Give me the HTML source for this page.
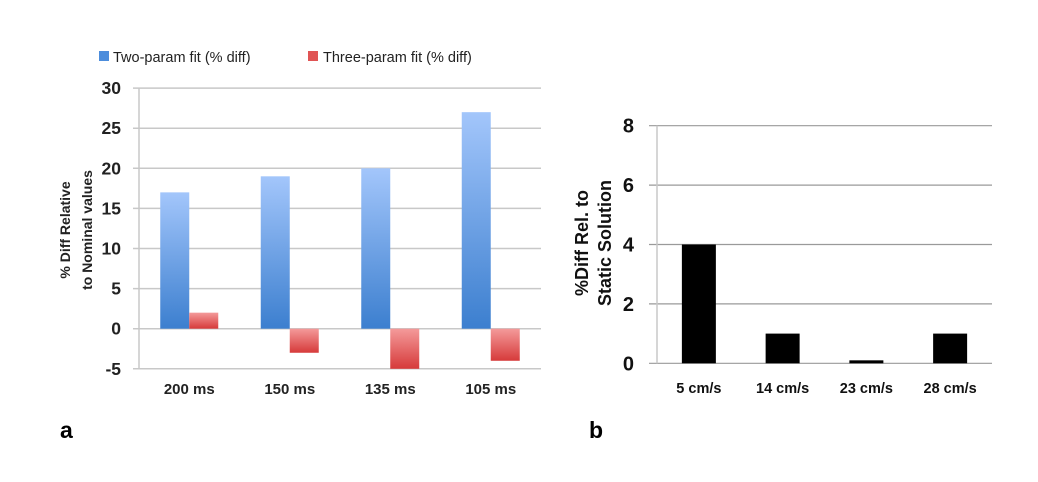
<!DOCTYPE html>
<html><head><meta charset="utf-8"><style>
body{margin:0;background:#fff;}
svg{display:block;font-family:"Liberation Sans",sans-serif;}
</style></head><body>
<svg id="fig" width="1038" height="482" viewBox="0 0 1038 482">
<defs>
<linearGradient id="gb" x1="0" y1="0" x2="0" y2="1"><stop offset="0" stop-color="#a3c6fb"/><stop offset="1" stop-color="#3c7fcf"/></linearGradient>
<linearGradient id="gr" x1="0" y1="0" x2="0" y2="1"><stop offset="0" stop-color="#f49a9a"/><stop offset="1" stop-color="#d63a3a"/></linearGradient>
</defs>
<g id="ca"></g>
<g id="cb"></g>
<text x="60" y="438" font-size="23" font-weight="bold">a</text>
<text x="589" y="438" font-size="23" font-weight="bold">b</text>
</svg>
<script>
const catsA=["200 ms","150 ms","135 ms","105 ms"];
const twoParam=[17,19,20,27];
const threeParam=[2,-3,-5,-4];
const ticksA=[-5,0,5,10,15,20,25,30];
const catsB=["5 cm/s","14 cm/s","23 cm/s","28 cm/s"];
const valsB=[4,1,0.1,1];
const ticksB=[0,2,4,6,8];
const NS="http://www.w3.org/2000/svg";
function mk(p,t,a,txt){const e=document.createElementNS(NS,t);for(const k in a)e.setAttribute(k,a[k]);if(txt!=null)e.textContent=txt;p.appendChild(e);return e;}
// chart a
const ga=document.getElementById('ca');
const yA=v=>328.7-(v)*(40.1/5);
const xA0=139,xA1=541,cwA=(xA1-xA0)/catsA.length;
ticksA.forEach(t=>{
 const gl=mk(ga,'line',{x1:133,x2:xA1,y1:yA(t),y2:yA(t),stroke:'#c8c8c8','stroke-width':1.5});
 
 const tl=mk(ga,'text',{x:121,y:yA(t)+6,'text-anchor':'end','font-size':17.5,'font-weight':'bold',fill:'#222'},String(t));
 
});
mk(ga,'line',{x1:xA0,x2:xA0,y1:yA(30),y2:yA(-5),stroke:'#c8c8c8','stroke-width':1.5});
catsA.forEach((c,i)=>{
 const cx=xA0+cwA*(i+0.5);
 const b=mk(ga,'rect',{x:cx-29,y:Math.min(yA(twoParam[i]),yA(0)),width:29,height:Math.abs(yA(twoParam[i])-yA(0)),fill:'url(#gb)'});
 
 const r=mk(ga,'rect',{x:cx,y:Math.min(yA(threeParam[i]),yA(0)),width:29,height:Math.abs(yA(threeParam[i])-yA(0)),fill:'url(#gr)'});
 
 const l=mk(ga,'text',{x:cx,y:394,'text-anchor':'middle','font-size':15,'font-weight':'bold',fill:'#222'},c);
 
});
const yt=mk(ga,'text',{transform:'translate(70,230) rotate(-90)','text-anchor':'middle','font-size':14,'font-weight':'bold',fill:'#222'});

mk(yt,'tspan',{x:0,y:0},'% Diff Relative');mk(yt,'tspan',{x:0,y:22},'to Nominal values');
const le1=mk(ga,'g',{});
mk(le1,'rect',{x:99,y:51,width:10,height:10,fill:'#4d8ddc'});
mk(le1,'text',{x:113,y:62,'font-size':14.5,fill:'#222'},'Two-param fit (% diff)');
const le2=mk(ga,'g',{});
mk(le2,'rect',{x:308,y:51,width:10,height:10,fill:'#e05454'});
mk(le2,'text',{x:323,y:62,'font-size':14.5,fill:'#222'},'Three-param fit (% diff)');
// chart b
const gb=document.getElementById('cb');
const yB=v=>363.3-v*(59.4/2);
const xB0=657,xB1=992,cwB=(xB1-xB0)/catsB.length;
ticksB.forEach(t=>{
 const gl=mk(gb,'line',{x1:649,x2:xB1,y1:yB(t),y2:yB(t),stroke:'#9a9a9a','stroke-width':1.2});
 
 const tl=mk(gb,'text',{x:634,y:yB(t)+7,'text-anchor':'end','font-size':20,'font-weight':'bold',fill:'#111'},String(t));
 
});
mk(gb,'line',{x1:xB0,x2:xB0,y1:yB(8),y2:yB(0),stroke:'#c8c8c8','stroke-width':1.5});
catsB.forEach((c,i)=>{
 const cx=xB0+cwB*(i+0.5);
 const b=mk(gb,'rect',{x:cx-17,y:yB(valsB[i]),width:34,height:yB(0)-yB(valsB[i]),fill:'#000'});
 
 const l=mk(gb,'text',{x:cx,y:393,'text-anchor':'middle','font-size':14.5,'font-weight':'bold',fill:'#111'},c);
 
});
const yt2=mk(gb,'text',{transform:'translate(588,243) rotate(-90)','text-anchor':'middle','font-size':18,'font-weight':'bold',fill:'#111'});

mk(yt2,'tspan',{x:0,y:0},'%Diff Rel. to');mk(yt2,'tspan',{x:0,y:23},'Static Solution');
</script>
</body></html>
